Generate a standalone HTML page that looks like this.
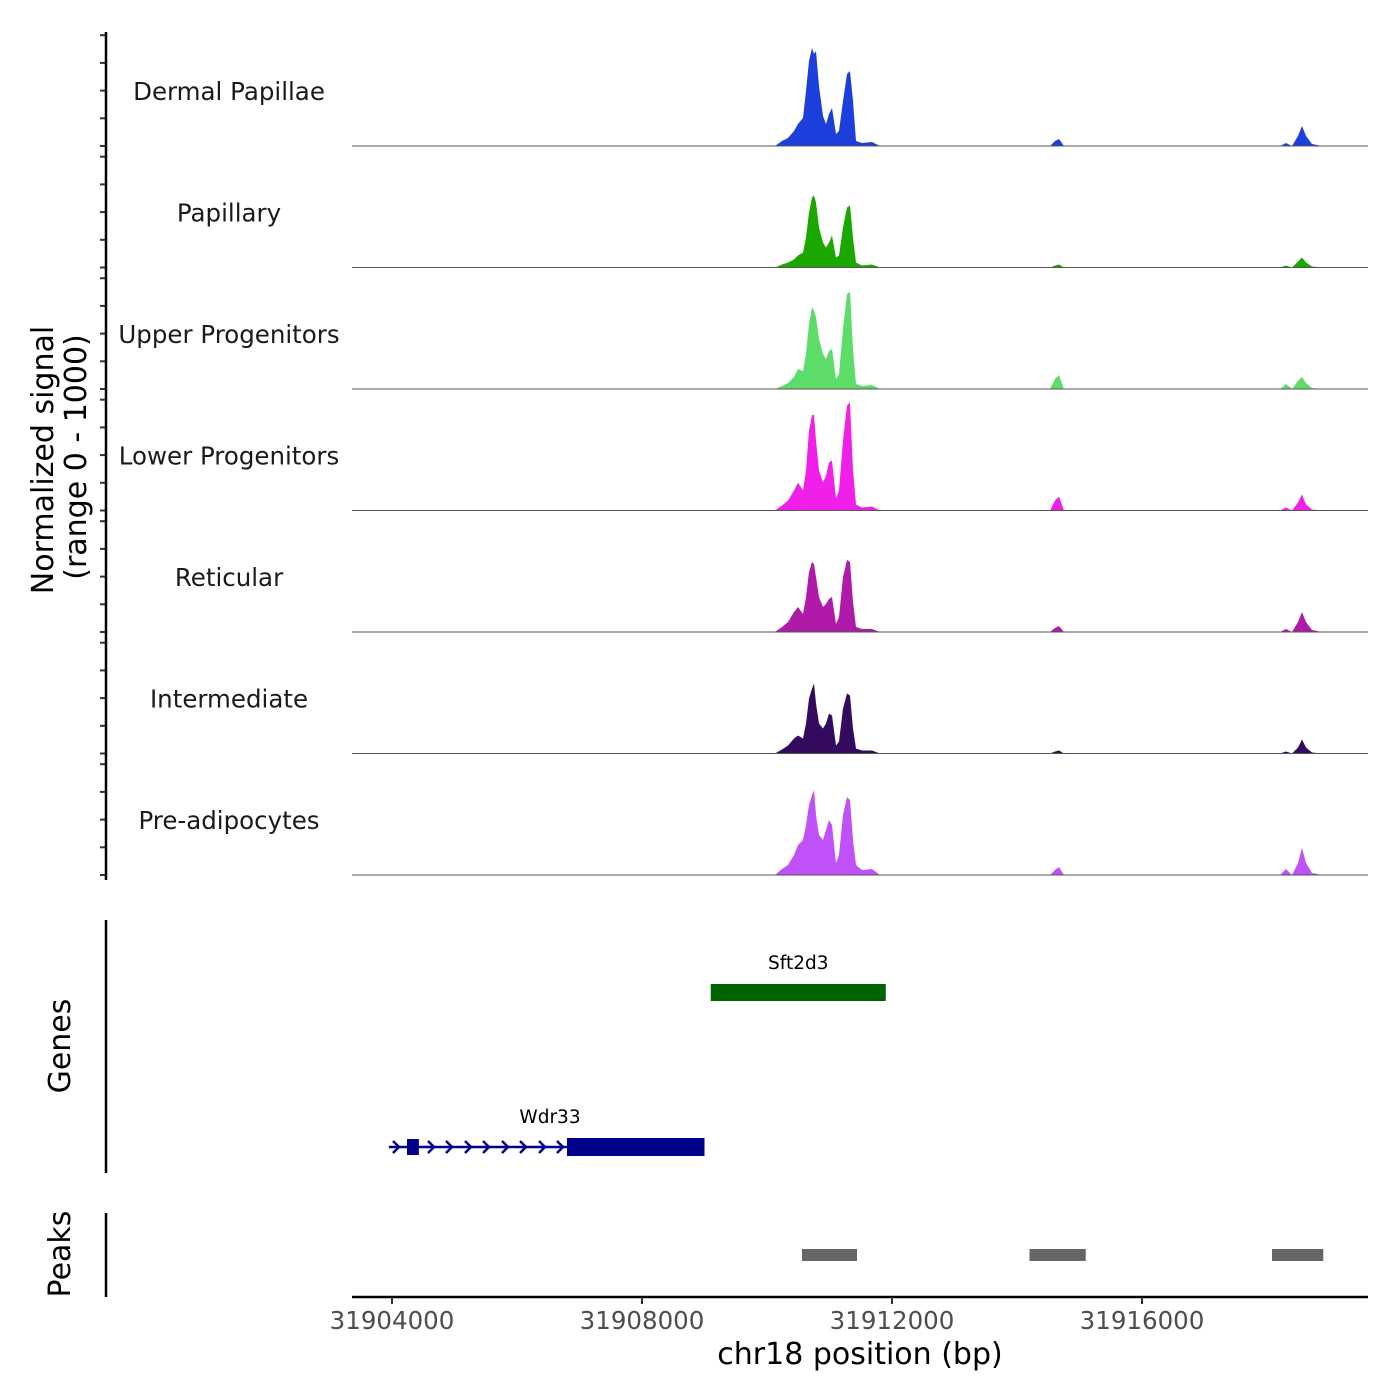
<!DOCTYPE html>
<html><head><meta charset="utf-8"><style>
body{margin:0;background:#fff}
svg{display:block;font-family:"DejaVu Sans","Liberation Sans",sans-serif}
</style></head><body>
<svg id="chart" width="1400" height="1400" viewBox="0 0 1400 1400" xmlns="http://www.w3.org/2000/svg">
<g id="tracks"></g>
<g id="genes"></g>
<g id="peaks"></g>
<g id="axes"></g>
</svg>
<script>
const positions=[31903360,31908928,31910128,31910240,31910336,31910432,31910496,31910576,31910624,31910672,31910720,31910752,31910784,31910832,31910896,31910944,31910992,31911040,31911104,31911152,31911216,31911280,31911328,31911376,31911424,31911520,31911680,31911808,31914528,31914608,31914672,31914752,31918208,31918304,31918400,31918496,31918560,31918624,31918720,31918880];
const trackNames=["Dermal Papillae","Papillary","Upper Progenitors","Lower Progenitors","Reticular","Intermediate","Pre-adipocytes"];
const trackColors=["#1c3fdc","#1aa800","#5ddc6a","#f020e8","#b01aa8","#340a5e","#c050f8"];
const sigDP=[0,0,0,5,8,15,22,28,55,85,98,92,95,60,30,22,32,38,12,15,45,72,75,45,5,3,4,0,0,5,7,0,0,3,0,10,20,10,2,0];
const sigPap=[0,0,0,3,5,8,12,15,30,55,70,72,65,40,25,20,25,32,10,12,40,60,62,30,5,2,3,0,0,2,3,0,0,2,0,6,10,5,1,0];
const sigUpper=[0,0,0,3,6,12,20,18,35,65,82,78,72,50,35,30,38,40,10,15,60,95,97,40,5,3,4,0,0,10,14,0,0,5,0,8,12,6,1,0];
const sigLower=[0,0,0,5,10,20,28,20,40,80,95,96,70,40,28,35,48,50,12,20,70,105,108,40,6,3,4,0,0,10,14,0,0,3,0,8,16,6,1,0];
const sigRet=[0,0,0,5,10,20,25,18,35,60,70,68,55,35,25,28,33,35,8,15,55,72,70,30,5,3,3,0,0,4,6,0,0,3,0,10,20,10,2,0];
const sigInt=[0,0,0,4,8,15,18,15,30,55,65,70,50,30,25,30,40,38,8,12,45,60,58,25,5,3,3,0,0,2,3,0,0,2,0,6,14,6,1,0];
const sigPre=[0,0,0,6,10,20,30,35,50,70,80,85,60,40,35,45,55,50,12,20,60,78,75,35,10,5,6,0,0,5,8,0,0,6,0,12,27,12,2,0];
const signals=[sigDP,sigPap,sigUpper,sigLower,sigRet,sigInt,sigPre];
const xTicks=[31904000,31908000,31912000,31916000];
const geneNames=["Sft2d3","Wdr33"];
const geneStarts=[31909100,31903950];
const geneEnds=[31911900,31909000];
const wdrExonStarts=[31904240,31906800];
const wdrExonEnds=[31904430,31909000];
const peakStarts=[31910560,31914200,31918080];
const peakEnds=[31911440,31915100,31918900];

const NS="http://www.w3.org/2000/svg";
const x=bp=>392+(bp-31904000)*0.0625;
const baselines=[146,267.5,389,510.5,632,753.5,875];
const yv=v=>v*1.0;
function mk(tag,attrs,parent,text){const e=document.createElementNS(NS,tag);for(const k in attrs)e.setAttribute(k,attrs[k]);if(text!==undefined)e.textContent=text;parent.appendChild(e);return e;}
const T=document.getElementById('tracks'),G=document.getElementById('genes'),P=document.getElementById('peaks'),A=document.getElementById('axes');

signals.forEach((s,i)=>{
  const b=baselines[i];
  let d="M"+x(positions[0])+","+b;
  s.forEach((v,j)=>{d+=" L"+x(positions[j]).toFixed(1)+","+(b-yv(v)).toFixed(1);});
  d+=" L"+x(positions[positions.length-1])+","+b+" Z";
  const p=mk('path',{d:d,fill:trackColors[i]},T);
  
  
  const l=mk('line',{x1:352,x2:1368,y1:b,y2:b,stroke:'#555','stroke-width':1},T);
  
  
  const t=mk('text',{x:229,y:b-46,'text-anchor':'middle','font-size':24.5,fill:'#1a1a1a'},T,trackNames[i]);
  
  
  for(let k=0;k<5;k++){
    const tk=mk('line',{x1:100,x2:106,y1:b-k*27.7,y2:b-k*27.7,stroke:'#333','stroke-width':2},A);
    
    
  }
});
[[32,880],[920,1173],[1213,1297]].forEach(r=>{
  const l=mk('line',{x1:106,x2:106,y1:r[0],y2:r[1],stroke:'#000','stroke-width':2.5},A);
  
  
});
let yt=mk('text',{transform:'translate(53,460) rotate(-90)','text-anchor':'middle','font-size':30},A,'Normalized signal');


yt=mk('text',{transform:'translate(86,457) rotate(-90)','text-anchor':'middle','font-size':30},A,'(range 0 - 1000)');


yt=mk('text',{transform:'translate(70,1046) rotate(-90)','text-anchor':'middle','font-size':30},A,'Genes');


yt=mk('text',{transform:'translate(70,1254) rotate(-90)','text-anchor':'middle','font-size':30},A,'Peaks');



let g=mk('rect',{x:x(geneStarts[0]),y:984,width:x(geneEnds[0])-x(geneStarts[0]),height:17,fill:'#006400'},G);


g=mk('text',{x:(x(geneStarts[0])+x(geneEnds[0]))/2,y:969,'text-anchor':'middle','font-size':18.5},G,geneNames[0]);


g=mk('line',{x1:x(geneStarts[1]),x2:x(geneEnds[1]),y1:1147,y2:1147,stroke:'#00008b','stroke-width':2.5},G);


wdrExonStarts.forEach((s,i)=>{
  const h=i==0?16:18;
  const e=mk('rect',{x:x(s),y:1147-h/2,width:x(wdrExonEnds[i])-x(s),height:h,fill:'#00008b'},G);
  
  
});
[397,432,450,469,487,506,524,543,561].forEach(cx=>{
  const c=mk('path',{d:`M${cx-4},${1141} L${cx+2},${1147} L${cx-4},${1153}`,fill:'none',stroke:'#00008b','stroke-width':2.5},G);
  
  
});
g=mk('text',{x:550,y:1123,'text-anchor':'middle','font-size':18.5},G,geneNames[1]);



peakStarts.forEach((s,i)=>{
  const r=mk('rect',{x:x(s),y:1249,width:x(peakEnds[i])-x(s),height:12,fill:'#666'},P);
  
  
});

let ax=mk('line',{x1:352,x2:1368,y1:1297,y2:1297,stroke:'#000','stroke-width':2.5},A);


xTicks.forEach(t=>{
  const l=mk('line',{x1:x(t),x2:x(t),y1:1297,y2:1304,stroke:'#333','stroke-width':2},A);
  
  
  const tx=mk('text',{x:x(t),y:1329,'text-anchor':'middle','font-size':24.5,fill:'#4d4d4d'},A,String(t));
  
  
});
ax=mk('text',{x:860,y:1364,'text-anchor':'middle','font-size':30},A,'chr18 position (bp)');


</script>
</body></html>
